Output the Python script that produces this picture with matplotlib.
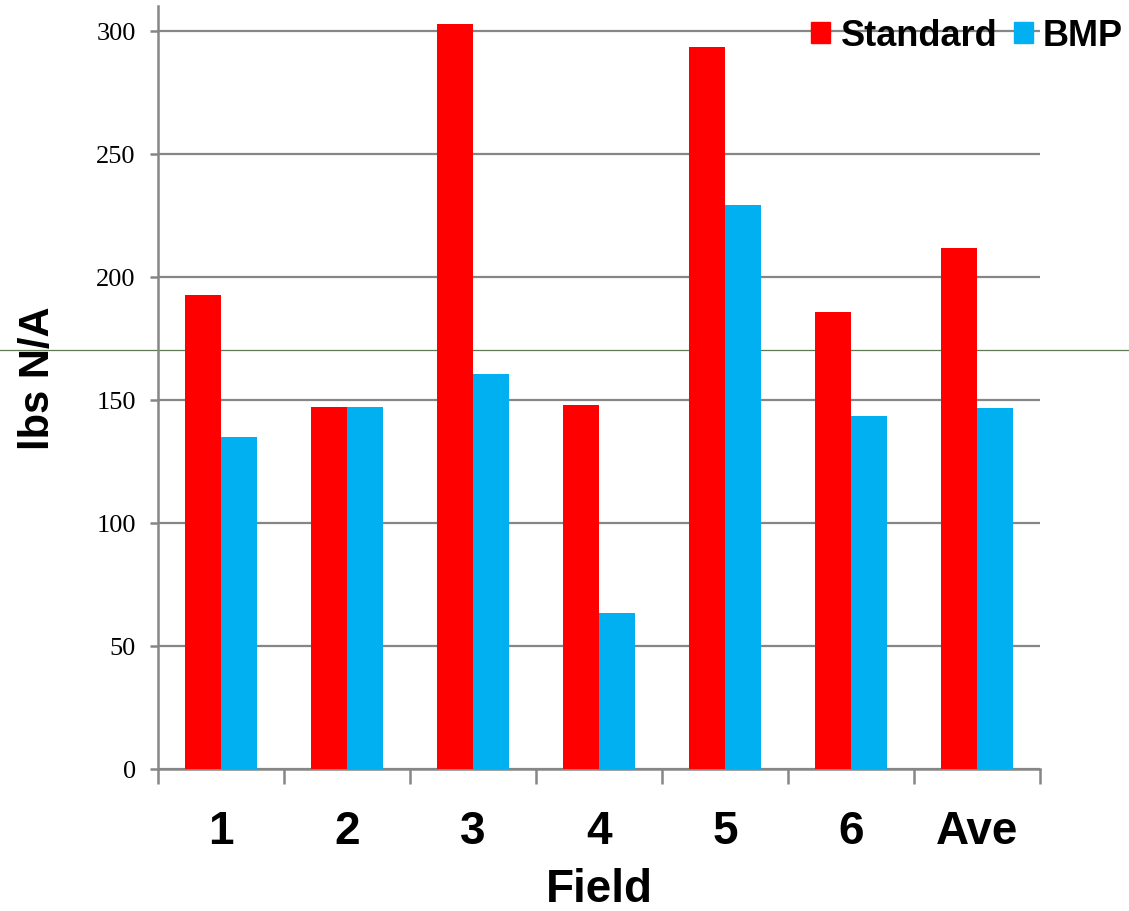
import matplotlib
matplotlib.use("Agg")
import matplotlib.pyplot as plt
from matplotlib.lines import Line2D
from matplotlib.patches import Patch
import numpy as np

categories = ["1", "2", "3", "4", "5", "6", "Ave"]
standard = [192.5, 147, 302.5, 148, 293.5, 185.5, 211.5]
bmp = [135, 147, 160.5, 63.5, 229, 143.5, 146.5]
yticks = [0, 50, 100, 150, 200, 250, 300]

RED = "#FF0000"
BLUE = "#00B0F0"
GRID = "#868686"

fig = plt.figure(figsize=(11.29, 9.12), dpi=100)
fig.patch.set_facecolor("white")

# faint full-width horizontal line present in the reference image
fig.add_artist(Line2D([0, 1], [1 - 351 / 912, 1 - 351 / 912], transform=fig.transFigure,
                      color="#5f7a52", lw=0.9, zorder=-1))

ax = fig.add_axes([158 / 1129, 1 - 770 / 912, (1040 - 158) / 1129, (770 - 7) / 912])
ax.set_facecolor("none")

x = np.arange(len(categories))
w = 36 / 126
ax.bar(x - w / 2, standard, width=w, color=RED, label="Standard", zorder=3)
ax.bar(x + w / 2, bmp, width=w, color=BLUE, label="BMP", zorder=3)

ax.set_xlim(-0.5, len(categories) - 0.5)
ax.set_ylim(0, 310)
ax.set_yticks(yticks)
ax.yaxis.grid(True, color=GRID, lw=1.6, zorder=0)
ax.set_axisbelow(True)

for s in ["top", "right"]:
    ax.spines[s].set_visible(False)
for s in ["left", "bottom"]:
    ax.spines[s].set_color(GRID)
    ax.spines[s].set_linewidth(1.8)

ax.set_xticks(x)
ax.set_xticklabels(categories, fontfamily="Liberation Sans", fontweight="bold", fontsize=33)
ax.set_xticks(np.arange(-0.5, len(categories)), minor=True)
ax.tick_params(axis="x", which="major", length=0, pad=29)
ax.tick_params(axis="x", which="minor", length=11, width=1.8, color=GRID)
ax.tick_params(axis="y", which="major", length=6, width=1.8, color=GRID, pad=10)
for lab in ax.get_yticklabels():
    lab.set_fontfamily("Liberation Serif")
    lab.set_fontsize(19)

ax.set_xlabel("Field", fontfamily="Liberation Sans", fontweight="bold", fontsize=33)
ax.xaxis.set_label_coords(0.5, (770 - 868) / 763)
ax.set_ylabel("lbs N/A", fontfamily="Liberation Sans", fontweight="bold", fontsize=30)
ax.yaxis.set_label_coords((58 - 158) / 882, (770 - 378) / 763)

handles = [Patch(color=RED, label="Standard"), Patch(color=BLUE, label="BMP")]
fig.legend(handles=handles, loc="center", bbox_to_anchor=(967 / 1129, 1 - 37 / 912),
           ncol=2, frameon=False, handlelength=0.53, handleheight=0.53,
           handletextpad=0.28, columnspacing=0.45, borderpad=0, borderaxespad=0,
           prop={"family": "Liberation Sans", "weight": "bold", "size": 26})

fig.savefig("out.png", dpi=100, facecolor="white")
